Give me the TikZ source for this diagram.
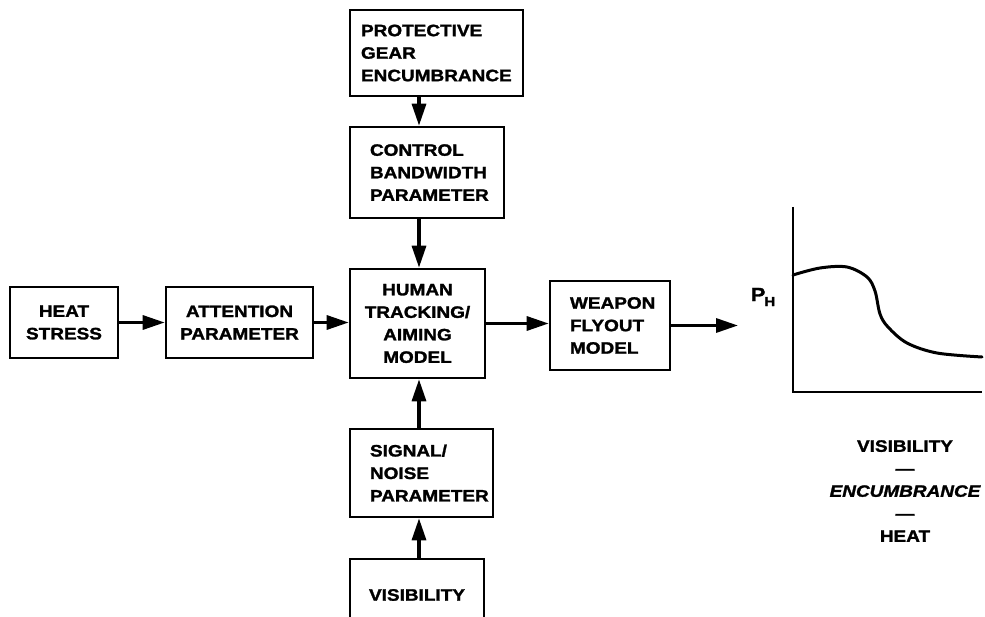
\documentclass[tikz,border=0pt]{standalone}
\usepackage{fontspec}
\setmainfont{Liberation Sans}[FakeStretch=1.15,
  BoldFeatures={FakeBold=1.6}, BoldItalicFeatures={FakeBold=1.6}]
\usetikzlibrary{arrows.meta}

\begin{document}
\begin{tikzpicture}[x=1pt,y=-1pt,
  lbl/.style={font=\bfseries\fontsize{16.5}{22.5}\selectfont},
  blk/.style={draw, line width=2.6pt, rectangle, inner sep=0pt, lbl},
  arr/.style={line width=3.2pt, -{Triangle[length=22pt,width=14pt]}},
  axis/.style={line width=2.4pt},
  curve/.style={line width=3pt, line cap=round, line join=round},
]
\clip (0,0) rectangle (985,617);

% blocks of the model chain
\node[blk, minimum width=173, minimum height=86, text width=151, align=left]
  (prot) at (436.5,53) {PROTECTIVE\\GEAR\\ENCUMBRANCE};
\node[blk, minimum width=154, minimum height=91, text width=114, align=left]
  (ctrl) at (427,172.5) {CONTROL\\BANDWIDTH\\PARAMETER};
\node[blk, minimum width=135, minimum height=109, align=center]
  (human) at (417.5,323.5) {HUMAN\\TRACKING/\\AIMING\\MODEL};
\node[blk, minimum width=120, minimum height=89, text width=80, align=left]
  (weapon) at (610,325.5) {WEAPON\\FLYOUT\\MODEL};
\node[blk, minimum width=108, minimum height=71, align=center]
  (heat) at (64,322.5) {HEAT\\STRESS};
\node[blk, minimum width=147, minimum height=71, align=center]
  (attn) at (239.5,322.5) {ATTENTION\\PARAMETER};
\node[blk, minimum width=143, minimum height=88, text width=103, align=left]
  (signal) at (421.5,473) {SIGNAL/\\NOISE\\PARAMETER};
\node[blk, minimum width=134, minimum height=72, align=center]
  (vis) at (417,595) {VISIBILITY};

% connectors
\coordinate (col) at (419,0);
\coordinate (out) at (738,0);
\draw[arr] (prot.south -| col) -- (ctrl.north -| col);
\draw[arr] (ctrl.south -| col) -- (human.north -| col);
\draw[arr] (signal.north -| col) -- (human.south -| col);
\draw[arr] (vis.north -| col) -- (signal.south -| col);
\draw[arr] (heat.east) -- (attn.west);
\draw[arr] (attn.east) -- (human.west |- attn.east);
\draw[arr] (human.east) -- (weapon.west |- human.east);
\draw[arr] (weapon.east) -- (out |- weapon.east);

% output graph
\node[font=\bfseries\fontsize{19}{19}\selectfont] (ph) at (763,297)
  {P\kern-1pt\raisebox{-5pt}{\fontsize{13}{13}\selectfont H}};
\draw[axis] (793,207) -- (793,392) -- (982,392);
\draw[curve] plot[smooth, tension=0.55] coordinates
  {(793,275) (820,268) (847,267) (867,277) (875,291) (880,314) (888,327)
   (907,343) (937,353) (982,357)};

\node[lbl, align=center] (legend) at (905,491)
  {VISIBILITY\\—\\{\itshape ENCUMBRANCE}\\—\\HEAT};
\end{tikzpicture}
\end{document}
